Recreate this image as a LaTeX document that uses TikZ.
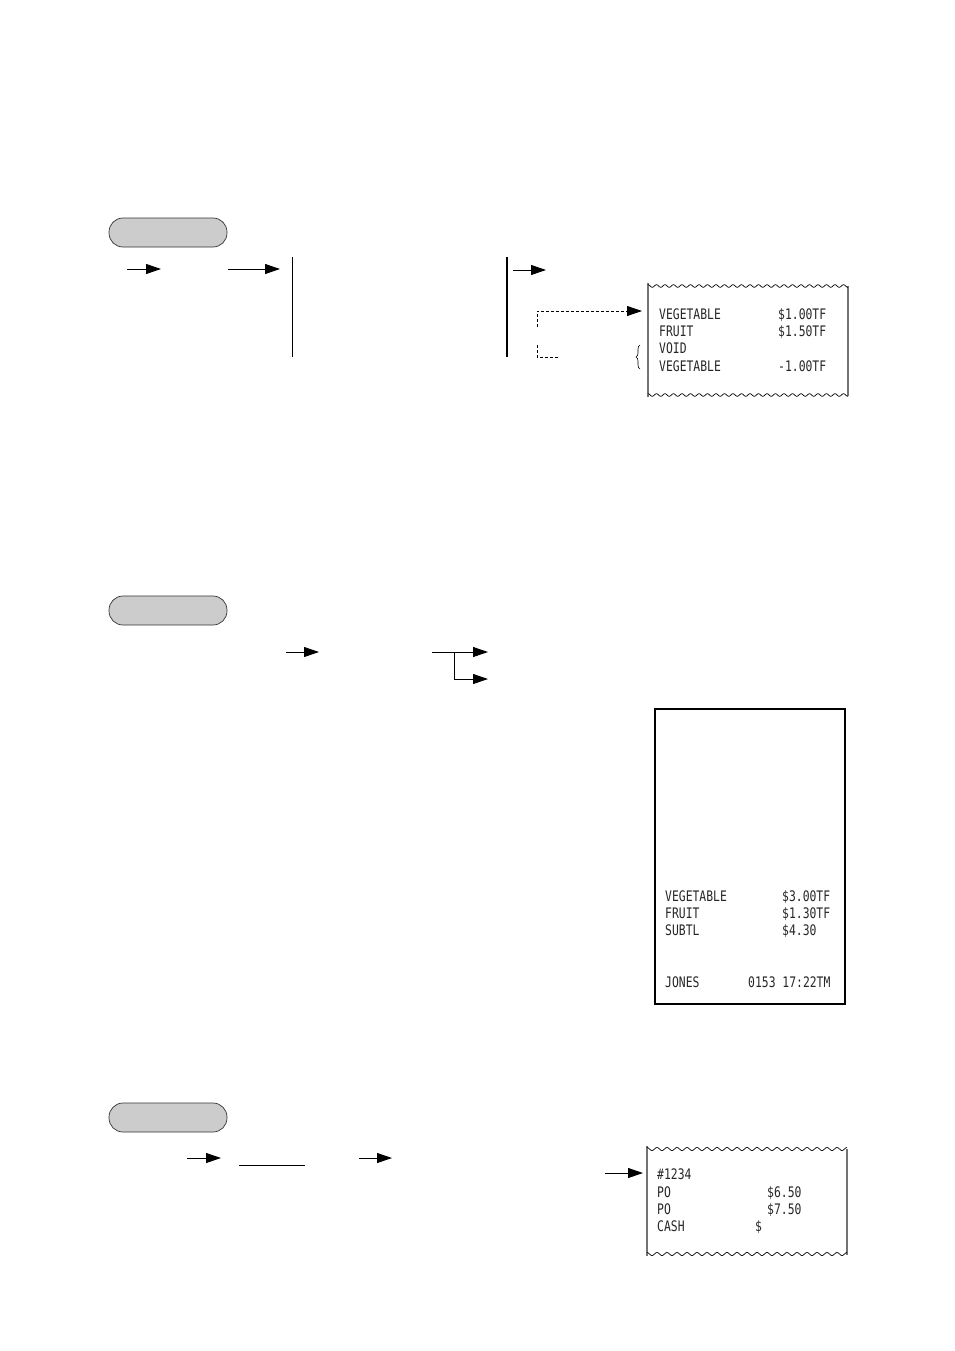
\documentclass[tikz,border=0pt]{standalone}
\usepackage{fontspec}
\usetikzlibrary{arrows.meta,decorations.pathreplacing}
\newfontfamily\rfont[FakeStretch=0.785]{DejaVu Sans Mono}
\begin{document}
\begin{tikzpicture}[x=1pt,y=-1pt,
  pill/.style={draw=black!80,line width=0.7pt,fill=black!20,rounded corners=14pt,minimum width=118pt,minimum height=29pt,inner sep=0pt},
  arr/.style={line width=0.9pt,-{Triangle[length=15pt,width=10pt]}},
  vline/.style={line width=1pt},
  thickv/.style={line width=2pt},
  dsh/.style={dash pattern=on 3pt off 2pt,line width=0.8pt},
  rtxt/.style={anchor=base west,inner sep=0pt,text=black!85,font=\rfont\fontsize{14.5}{17}\selectfont},
  side/.style={draw=black!55,line width=1.3pt},
  wave/.style={line width=0.7pt},
  rbox/.style={draw,line width=1.1pt,inner sep=0pt}]
\useasboundingbox (0,0) rectangle (954,1351);

% ---------- section 1 ----------
\node[pill] (p1) at (168,232.5) {};
\coordinate (a1s) at (127,269); \coordinate (a1e) at (161,269);
\draw[arr] (a1s) -- (a1e);
\coordinate (a2s) at (228,269); \coordinate (a2e) at (280,269);
\draw[arr] (a2s) -- (a2e);
\coordinate (v1t) at (292,257); \coordinate (v1b) at (292,357);
\draw[vline] (v1t) -- (v1b);
\coordinate (v2t) at (507,257); \coordinate (v2b) at (507,357);
\draw[thickv] (v2t) -- (v2b);
\coordinate (a3s) at (513,270); \coordinate (a3e) at (546,270);
\draw[arr] (a3s) -- (a3e);
\coordinate (d1s) at (537,327); \coordinate (d1c) at (537,311); \coordinate (d1e) at (642,311);
\draw[dsh,-{Triangle[length=15pt,width=10pt]}] (d1s) -- (d1c) -- (d1e);
\coordinate (d2s) at (537,345); \coordinate (d2c) at (537,357); \coordinate (d2e) at (559,357);
\draw[dsh] (d2s) -- (d2c) -- (d2e);

% receipt 1
\coordinate (r1tl) at (648,283);
\coordinate (r1bl) at (648,397);
\coordinate (r1tr) at (848,286);
\coordinate (r1br) at (848,396);
\draw[side] (r1tl) -- (r1bl);
\draw[side] (r1tr) -- (r1br);
\draw[wave] plot[domain=648:848,samples=240] (\x,{286-1.3*cos(((\x-648)/8.5)*360)});
\draw[wave] plot[domain=648:848,samples=240] (\x,{395-1.3*cos(((\x-648)/8.5)*360)});
\node[rtxt] (t11) at (659,319) {VEGETABLE};
\node[rtxt] (t12) at (778,319) {\$1.00TF};
\node[rtxt] (t13) at (659,336) {FRUIT};
\node[rtxt] (t14) at (778,336) {\$1.50TF};
\node[rtxt] (t15) at (659,353) {VOID};
\node[rtxt] (t16) at (659,371) {VEGETABLE};
\node[rtxt] (t17) at (778,371) {-1.00TF};
\coordinate (b1b) at (640,369); \coordinate (b1t) at (640,345);
\draw[line width=0.6pt,decorate,decoration={brace,amplitude=4pt}] (b1b) -- (b1t);

% ---------- section 2 ----------
\node[pill] (p2) at (168,610.5) {};
\coordinate (a4s) at (286,652); \coordinate (a4e) at (319,652);
\draw[arr] (a4s) -- (a4e);
\coordinate (brs) at (432,652); \coordinate (brj) at (454,652); \coordinate (bre) at (488,652);
\coordinate (brd) at (454,679); \coordinate (bre2) at (488,679);
\draw[arr] (brs) -- (bre);
\draw[arr] (brj) -- (brd) -- (bre2);

\node[rbox,minimum width=190pt,minimum height=295pt] (r2) at (750,856.5) {};
\node[rtxt] (t21) at (665,901) {VEGETABLE};
\node[rtxt] (t22) at (782,901) {\$3.00TF};
\node[rtxt] (t23) at (665,918) {FRUIT};
\node[rtxt] (t24) at (782,918) {\$1.30TF};
\node[rtxt] (t25) at (665,935) {SUBTL};
\node[rtxt] (t26) at (782,935) {\$4.30};
\node[rtxt] (t27) at (665,987) {JONES};
\node[rtxt] (t28) at (748,987) {0153 17:22TM};

% ---------- section 3 ----------
\node[pill] (p3) at (168,1117.5) {};
\coordinate (a5s) at (187,1158); \coordinate (a5e) at (221,1158);
\draw[arr] (a5s) -- (a5e);
\coordinate (uls) at (239,1165); \coordinate (ule) at (305,1165);
\draw[line width=0.9pt] (uls) -- (ule);
\coordinate (a6s) at (359,1158); \coordinate (a6e) at (392,1158);
\draw[arr] (a6s) -- (a6e);
\coordinate (a7s) at (605,1173); \coordinate (a7e) at (643,1173);
\draw[arr] (a7s) -- (a7e);

\coordinate (r3tl) at (647,1146);
\coordinate (r3bl) at (647,1256);
\coordinate (r3tr) at (847,1149);
\coordinate (r3br) at (847,1255);
\draw[side] (r3tl) -- (r3bl);
\draw[side] (r3tr) -- (r3br);
\draw[wave] plot[domain=647:847,samples=240] (\x,{1149-1.5*cos(((\x-647)/10)*360)});
\draw[wave] plot[domain=647:847,samples=240] (\x,{1254-1.5*cos(((\x-647)/10)*360)});
\node[rtxt] (t31) at (657,1179) {\#1234};
\node[rtxt] (t32) at (657,1197) {PO};
\node[rtxt] (t33) at (767,1197) {\$6.50};
\node[rtxt] (t34) at (657,1214) {PO};
\node[rtxt] (t35) at (767,1214) {\$7.50};
\node[rtxt] (t36) at (657,1231) {CASH};
\node[rtxt] (t37) at (755,1231) {\$};
\end{tikzpicture}
\end{document}
